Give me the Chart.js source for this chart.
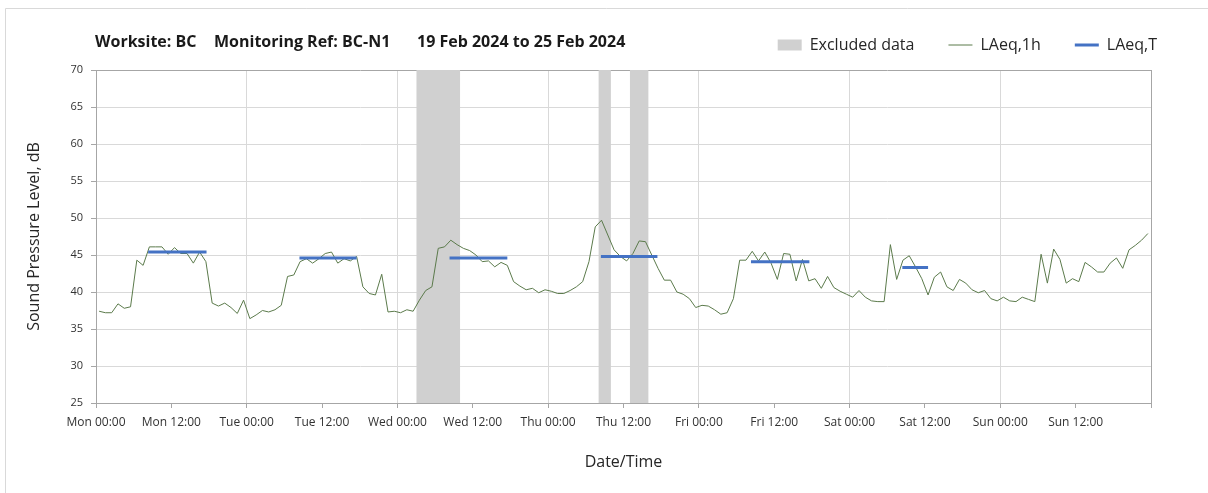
<!DOCTYPE html>
<html>
<head>
<meta charset="utf-8">
<script src="https://cdn.jsdelivr.net/npm/chart.js@4.4.1/dist/chart.umd.min.js"></script>
<style>
  body { margin: 0; background: #fff; }
  canvas { display: block; }
</style>
</head>
<body>
<canvas id="noiseChart" width="1208" height="493"></canvas>
<script>
// hourly LAeq,1h values, Mon 00:00 .. Sun 23:00 (plotted at the middle of each hour)
const laeq1h = [
  37.4, 37.2, 37.2, 38.4, 37.8, 38.0, 44.3, 43.6, 46.1, 46.1,
  46.1, 45.1, 46.0, 45.2, 45.2, 43.9, 45.4, 44.1, 38.5, 38.1,
  38.5, 37.9, 37.1, 38.9, 36.4, 36.9, 37.5, 37.3, 37.6, 38.2,
  42.1, 42.3, 44.1, 44.5, 43.9, 44.5, 45.2, 45.4, 43.9, 44.5,
  44.2, 44.8, 40.7, 39.8, 39.6, 42.4, 37.3, 37.4, 37.2, 37.6,
  37.4, 38.9, 40.2, 40.7, 45.9, 46.1, 47.0, 46.4, 45.9, 45.6,
  45.0, 44.1, 44.2, 43.4, 44.0, 43.6, 41.4, 40.8, 40.3, 40.5,
  39.9, 40.3, 40.1, 39.8, 39.8, 40.2, 40.7, 41.4, 44.1, 48.8,
  49.7, 47.7, 45.7, 44.8, 44.2, 45.2, 46.9, 46.8, 45.0, 43.2,
  41.6, 41.6, 40.0, 39.7, 39.1, 37.9, 38.2, 38.1, 37.6, 37.0,
  37.2, 39.1, 44.3, 44.3, 45.5, 44.2, 45.4, 43.9, 41.7, 45.2,
  45.1, 41.5, 44.4, 41.5, 41.8, 40.5, 42.1, 40.6, 40.1, 39.7,
  39.3, 40.2, 39.3, 38.8, 38.7, 38.7, 46.4, 41.7, 44.3, 44.9,
  43.4, 41.8, 39.6, 42.0, 42.7, 40.7, 40.2, 41.7, 41.2, 40.3,
  39.9, 40.2, 39.1, 38.8, 39.3, 38.8, 38.7, 39.3, 39.0, 38.7,
  45.1, 41.2, 45.8, 44.4, 41.2, 41.8, 41.4, 44.0, 43.4, 42.7,
  42.7, 43.9, 44.6, 43.2, 45.7, 46.3, 47.0, 47.9
];

// daytime LAeq,T periods (hours from Mon 00:00)
const periodStart = [8.3, 32.4, 56.3, 80.4, 104.3, 128.4];
const periodEnd   = [17.6, 41.5, 65.5, 89.4, 113.6, 132.5];
const laeqT       = [45.4, 44.6, 44.6, 44.8, 44.1, 43.3];

// excluded data windows (hours from Mon 00:00)
const excludedStart = [51, 80, 85];
const excludedEnd   = [58, 82, 88];

const dayNames = ['Mon', 'Tue', 'Wed', 'Thu', 'Fri', 'Sat', 'Sun'];
const yMin = 25;
const yMax = 70;
const xMax = 168;

const fontFamily = "'Open Sans', sans-serif";
const axisGrey = '#a6a6a6';
const gridGrey = '#d9d9d9';

const lineData = laeq1h.map((v, i) => ({ x: i + 0.5, y: v }));

const periodData = [];
periodStart.forEach((s, i) => {
  periodData.push({ x: s, y: laeqT[i] });
  periodData.push({ x: periodEnd[i], y: laeqT[i] });
  periodData.push({ x: periodEnd[i], y: null });
});

const excludedData = [];
excludedStart.forEach((s, i) => {
  excludedData.push({ x: s, y: yMax });
  excludedData.push({ x: excludedEnd[i], y: yMax });
  excludedData.push({ x: excludedEnd[i], y: null });
});

// title text and outer frame
const headerPlugin = {
  id: 'header',
  beforeDraw(chart) {
    const ctx = chart.ctx;
    ctx.save();
    ctx.strokeStyle = gridGrey;
    ctx.lineWidth = 1;
    ctx.beginPath();
    ctx.moveTo(5.5, chart.height);
    ctx.lineTo(5.5, 8.5);
    ctx.lineTo(chart.width, 8.5);
    ctx.stroke();
    ctx.restore();
  },
  afterDraw(chart) {
    const ctx = chart.ctx;
    const left = chart.chartArea.left;
    ctx.save();
    ctx.fillStyle = '#1a1a1a';
    ctx.font = "bold 16px " + fontFamily;
    ctx.textBaseline = 'middle';
    ctx.fillText('Worksite: BC', left - 1, 42);
    ctx.fillText('Monitoring Ref: BC-N1', left + 118, 42);
    ctx.fillText('19 Feb 2024 to 25 Feb 2024', left + 321, 42);
    ctx.restore();
  }
};

const config = {
  type: 'line',
  data: {
    datasets: [
      {
        label: 'Excluded data',
        data: excludedData,
        backgroundColor: '#d0d0d0',
        borderColor: 'rgba(0,0,0,0)',
        borderWidth: 0,
        pointRadius: 0,
        pointStyle: 'rect',
        fill: 'start',
        spanGaps: false,
        order: 2
      },
      {
        label: 'LAeq,1h',
        data: lineData,
        borderColor: '#5b7a4b',
        backgroundColor: '#5b7a4b',
        borderWidth: 1,
        pointRadius: 0,
        pointStyle: 'line',
        tension: 0,
        order: 1
      },
      {
        label: 'LAeq,T',
        data: periodData,
        borderColor: '#4472c4',
        backgroundColor: '#4472c4',
        borderWidth: 3,
        pointRadius: 0,
        pointStyle: 'line',
        spanGaps: false,
        order: 0
      }
    ]
  },
  options: {
    responsive: false,
    animation: false,
    layout: {
      padding: { left: 10, right: 17, top: 3, bottom: 0 }
    },
    plugins: {
      legend: {
        position: 'top',
        align: 'end',
        labels: {
          usePointStyle: true,
          pointStyleWidth: 24,
          boxHeight: 11,
          padding: 34,
          color: '#262626',
          font: { family: fontFamily, size: 16 },
          sort: (a, b) => a.datasetIndex - b.datasetIndex
        }
      },
      tooltip: { enabled: false }
    },
    scales: {
      x: {
        type: 'linear',
        min: 0,
        max: xMax,
        afterFit: (scale) => { scale.height = 90; },
        ticks: {
          stepSize: 12,
          autoSkip: false,
          maxRotation: 0,
          padding: 7,
          color: '#333',
          font: { family: fontFamily, size: 12 },
          callback: (v) => {
            const day = dayNames[Math.floor(v / 24)];
            if (!day) return '';
            return day + ' ' + (v % 24 === 0 ? '00:00' : '12:00');
          }
        },
        grid: {
          color: (c) => {
            const v = c.tick ? c.tick.value : 0;
            if (v === xMax) return axisGrey;
            return v % 24 === 0 ? gridGrey : 'rgba(0,0,0,0)';
          },
          tickColor: axisGrey,
          tickLength: 5
        },
        border: { color: axisGrey, width: 1 },
        title: {
          display: true,
          text: 'Date/Time',
          color: '#262626',
          font: { family: fontFamily, size: 16 },
          padding: { top: 0, bottom: 21 }
        }
      },
      xTop: {
        type: 'linear',
        position: 'top',
        display: true,
        grid: { display: false },
        border: { display: false },
        ticks: { display: false },
        afterFit: (scale) => { scale.height = 7; }
      },
      y: {
        min: yMin,
        max: yMax,
        afterFit: (scale) => { scale.width = 86; },
        ticks: {
          stepSize: 5,
          padding: 8,
          color: '#333',
          font: { family: fontFamily, size: 11 }
        },
        grid: {
          color: (c) => (c.tick && c.tick.value === yMax ? axisGrey : gridGrey),
          tickColor: axisGrey,
          tickLength: 5
        },
        border: { color: axisGrey, width: 1 },
        title: {
          display: true,
          text: 'Sound Pressure Level, dB',
          color: '#262626',
          font: { family: fontFamily, size: 16 },
          padding: { top: 15, bottom: 0 }
        }
      },
      yRight: {
        type: 'linear',
        position: 'right',
        display: true,
        grid: { display: false },
        border: { display: false },
        ticks: { display: false },
        afterFit: (scale) => { scale.width = 40; }
      }
    }
  },
  plugins: [headerPlugin]
};

const noiseChart = new Chart(document.getElementById('noiseChart'), config);
</script>
</body>
</html>
